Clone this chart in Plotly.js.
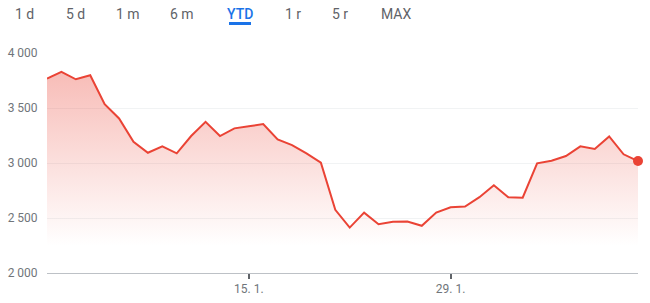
<!DOCTYPE html>
<html>
<head>
<meta charset="utf-8">
<script src="https://cdn.plot.ly/plotly-3.0.1.min.js"></script>
<style>
  html, body { margin: 0; padding: 0; background: #fff; }
  #chart { width: 650px; height: 303px; }
</style>
</head>
<body>
<div id="chart"></div>
<script>
// ---- data ----
const dates = [
  "2022-01-01","2022-01-02","2022-01-03","2022-01-04","2022-01-05","2022-01-06","2022-01-07",
  "2022-01-08","2022-01-09","2022-01-10","2022-01-11","2022-01-12","2022-01-13","2022-01-14",
  "2022-01-15","2022-01-16","2022-01-17","2022-01-18","2022-01-19","2022-01-20","2022-01-21",
  "2022-01-22","2022-01-23","2022-01-24","2022-01-25","2022-01-26","2022-01-27","2022-01-28",
  "2022-01-29","2022-01-30","2022-01-31","2022-02-01","2022-02-02","2022-02-03","2022-02-04",
  "2022-02-05","2022-02-06","2022-02-07","2022-02-08","2022-02-09","2022-02-10","2022-02-11"
];
const prices = [
  3768, 3828, 3761, 3798, 3535, 3405, 3193, 3093, 3151, 3088,
  3245, 3374, 3245, 3315, 3334, 3354, 3215, 3163, 3088, 3003,
  2574, 2413, 2549, 2444, 2465, 2468, 2429, 2549, 2598, 2604,
  2689, 2798, 2689, 2685, 2997, 3021, 3063, 3151, 3127, 3242,
  3079, 3018
];
const yTicks = [2000, 2500, 3000, 3500, 4000];
const xTickVals = ["2022-01-15", "2022-01-29"];
const xTickText = ["15. 1.", "29. 1."];
const rangeButtons = ["1 d", "5 d", "1 m", "6 m", "YTD", "1 r", "5 r", "MAX"];
const activeButton = "YTD";

// ---- layout helpers ----
const W = 650, H = 303;
const mL = 47, mR = 12, mT = 53, mB = 30;
const plotW = W - mL - mR, plotH = H - mT - mB;
const px2paperX = px => (px - mL) / plotW;
const px2paperY = py => (H - mB - py) / plotH;
const buttonCenters = [24.5, 75, 127.5, 182, 240, 292.5, 340, 395.5];

const lineColor = "#ea4335";
const last = prices.length - 1;

const traces = [
  {
    type: "scatter",
    mode: "lines",
    x: dates,
    y: prices,
    line: { color: lineColor, width: 2 },
    fill: "tozeroy",
    fillgradient: {
      type: "vertical",
      start: 2250,
      stop: 3850,
      colorscale: [[0, "rgba(234,67,53,0)"], [1, "rgba(234,67,53,0.36)"]]
    },
    hoverinfo: "skip",
    showlegend: false
  },
  {
    type: "scatter",
    mode: "markers",
    x: [dates[last]],
    y: [prices[last]],
    marker: { color: lineColor, size: 10 },
    cliponaxis: false,
    hoverinfo: "skip",
    showlegend: false
  }
];

const annotations = rangeButtons.map((t, i) => ({
  text: t,
  xref: "paper", yref: "paper",
  x: px2paperX(buttonCenters[i]), y: px2paperY(13.5),
  xanchor: "center", yanchor: "middle",
  showarrow: false,
  font: { family: "Roboto, Arial, sans-serif", size: 14,
          color: t === activeButton ? "#1a73e8" : "#5f6368",
          weight: t === activeButton ? 500 : 400 }
}));

const activeIdx = rangeButtons.indexOf(activeButton);
const shapes = [{
  type: "line", xref: "paper", yref: "paper",
  x0: px2paperX(buttonCenters[activeIdx] - 11), x1: px2paperX(buttonCenters[activeIdx] + 11),
  y0: px2paperY(23.5), y1: px2paperY(23.5),
  line: { color: "#1a73e8", width: 3 }
}];

const layout = {
  width: W, height: H,
  margin: { l: mL, r: mR, t: mT, b: mB, pad: 0 },
  paper_bgcolor: "#fff", plot_bgcolor: "#fff",
  separators: ", ",
  font: { family: "Roboto, Arial, sans-serif", size: 12, color: "#70757a" },
  showlegend: false,
  xaxis: {
    type: "date",
    range: [dates[0], dates[last]],
    tickvals: xTickVals,
    ticktext: xTickText,
    ticks: "outside", ticklen: 5, tickwidth: 2, tickcolor: "#5f6368",
    showgrid: false, zeroline: false,
    showline: true, linecolor: "#bdc1c6", linewidth: 1,
    tickfont: { size: 12, color: "#70757a" },
    fixedrange: true
  },
  yaxis: {
    range: [2000, 4000],
    tickvals: yTicks,
    tickformat: ",d",
    ticks: "outside", ticklen: 6, tickcolor: "rgba(0,0,0,0)",
    showgrid: true, gridcolor: "#f1f3f4", gridwidth: 1,
    zeroline: false, showline: false,
    tickfont: { size: 12, color: "#70757a" },
    fixedrange: true
  },
  annotations: annotations,
  shapes: shapes
};

Plotly.newPlot("chart", traces, layout, { displayModeBar: false, staticPlot: true });
</script>
</body>
</html>
